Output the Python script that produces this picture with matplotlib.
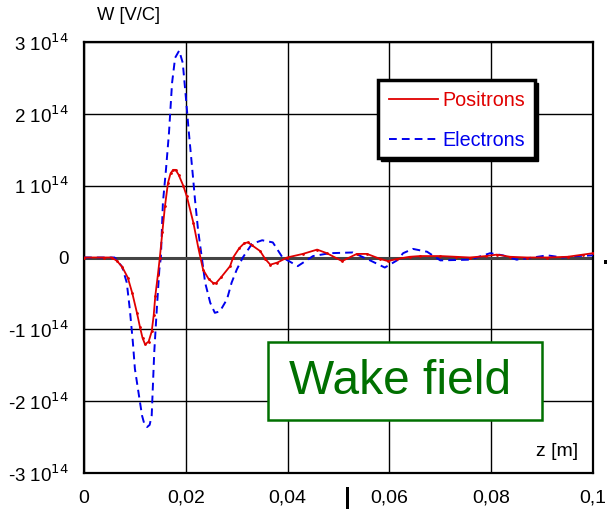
import matplotlib
matplotlib.use("Agg")
import matplotlib.pyplot as plt
from matplotlib.patches import Rectangle
from matplotlib.lines import Line2D

plt.rcParams['font.family'] = ['Liberation Sans', 'DejaVu Sans']

# ---- data (W in units of 1e14 V/C, z in m) ----
z_pos = [0.0, 0.0040, 0.0055, 0.0065, 0.0075, 0.0086, 0.0095, 0.0104, 0.0110, 0.0115,
         0.0120, 0.0127, 0.0133, 0.0137, 0.0140, 0.0145, 0.0149, 0.0154, 0.0159, 0.0165,
         0.0170, 0.0175, 0.0180, 0.0186, 0.0195, 0.0202, 0.0215, 0.0225, 0.0234, 0.0245,
         0.0253, 0.0259, 0.0270, 0.0287, 0.0293, 0.0305, 0.0315, 0.0322, 0.0330, 0.0346,
         0.0356, 0.0366, 0.0380, 0.0399, 0.0430, 0.0458, 0.0477, 0.0507, 0.0536, 0.0556,
         0.0582, 0.0597, 0.0615, 0.0640, 0.0660, 0.0700, 0.0730, 0.0758, 0.0790, 0.0811,
         0.0837, 0.0870, 0.0910, 0.0950, 0.0980, 0.1000]
w_pos = [0.0, 0.0, 0.0, -0.05, -0.13, -0.28, -0.50, -0.77, -0.97, -1.12,
         -1.21, -1.17, -1.03, -0.80, -0.54, -0.25, 0.0, 0.36, 0.71, 1.04,
         1.17, 1.22, 1.22, 1.15, 1.00, 0.85, 0.48, 0.12, -0.17, -0.30,
         -0.35, -0.36, -0.27, -0.12, 0.0, 0.13, 0.20, 0.21, 0.17, 0.09,
         -0.02, -0.10, -0.07, 0.0, 0.05, 0.11, 0.06, -0.05, 0.05, 0.05,
         -0.02, -0.05, -0.02, 0.01, 0.02, 0.02, 0.01, 0.0, 0.02, 0.04,
         0.01, 0.0, 0.0, 0.01, 0.04, 0.06]

z_ele = [0.0, 0.0045, 0.0060, 0.0075, 0.0084, 0.0090, 0.0096, 0.0100, 0.0106, 0.0114,
         0.0119, 0.0124, 0.0129, 0.0133, 0.0138, 0.0143, 0.0148, 0.0151, 0.0155, 0.0161,
         0.0167, 0.0173, 0.0179, 0.0187, 0.0194, 0.0200, 0.0206, 0.0214, 0.0218, 0.0224,
         0.0232, 0.0238, 0.0248, 0.0257, 0.0267, 0.0281, 0.0290, 0.0300, 0.0312, 0.0330,
         0.0350, 0.0371, 0.0390, 0.0420, 0.0450, 0.0483, 0.0528, 0.0562, 0.0591, 0.0615,
         0.0627, 0.0646, 0.0674, 0.0700, 0.0758, 0.0798, 0.0823, 0.0850, 0.0882, 0.0910,
         0.0940, 0.0969, 0.1000]
w_ele = [0.0, 0.0, 0.0, -0.13, -0.35, -0.72, -1.18, -1.55, -1.83, -2.20,
         -2.33, -2.36, -2.33, -2.20, -1.32, -0.72, -0.17, 0.0, 0.76, 1.22,
         1.74, 2.43, 2.78, 2.88, 2.71, 2.24, 1.74, 1.13, 0.81, 0.39,
         -0.03, -0.35, -0.63, -0.77, -0.75, -0.58, -0.35, -0.17, 0.0, 0.19,
         0.24, 0.21, 0.0, -0.12, 0.02, 0.06, 0.07, -0.04, -0.14, -0.04,
         0.06, 0.12, 0.08, -0.04, -0.03, 0.06, 0.03, -0.03, 0.0, 0.03,
         0.0, 0.02, 0.03]

x_ticks = [0, 0.02, 0.04, 0.06, 0.08, 0.1]
x_labels = ["0", "0,02", "0,04", "0,06", "0,08", "0,1"]
y_ticks = [-3, -2, -1, 0, 1, 2, 3]
y_labels = [r"-3 10$^{14}$", r"-2 10$^{14}$", r"-1 10$^{14}$", "0",
            r"1 10$^{14}$", r"2 10$^{14}$", r"3 10$^{14}$"]
series_names = ["Positrons", "Electrons"]

W, H = 607, 509
fig = plt.figure(figsize=(W / 100, H / 100), dpi=100)

def fx(px):
    return px / W

def fy(py):
    return 1 - py / H

ax = fig.add_axes([fx(84), fy(473), (593 - 84) / W, (473 - 42) / H])
ax.set_xlim(0, 0.1)
ax.set_ylim(-3, 3)

ax.set_xticks(x_ticks)
ax.set_xticklabels(x_labels)
ax.set_yticks(y_ticks)
ax.set_yticklabels(y_labels)
ax.tick_params(axis='both', length=0, colors='black')
ax.tick_params(axis='x', pad=12, labelsize=14)
ax.tick_params(axis='y', pad=11, labelsize=13.5)
ax.grid(True, color='black', linewidth=1.0)
ax.set_axisbelow(True)
for s in ax.spines.values():
    s.set_linewidth(1.6)
    s.set_color('black')

ax.axhline(0, color='#444444', linewidth=2.2, zorder=1.5)

ax.plot(z_ele, w_ele, color='#0000ee', linewidth=1.4, linestyle=(0, (4, 2.6)), zorder=3)
ax.plot(z_pos, w_pos, color='#e00000', linewidth=1.3, zorder=4,
        marker='.', markersize=2)

# axis labels
fig.text(fx(97), fy(16), "W [V/C]", fontsize=13.2, va='center', ha='left')
fig.text(fx(578), fy(452), "z [m]", fontsize=14, va='center', ha='right')

# legend box with black shadow
fig.patches.append(Rectangle((fx(381), fy(161)), fx(538) - fx(381), fy(83) - fy(161),
                             transform=fig.transFigure, facecolor='black',
                             edgecolor='black', zorder=5))
fig.patches.append(Rectangle((fx(378), fy(158)), fx(535) - fx(378), fy(80) - fy(158),
                             transform=fig.transFigure, facecolor='white',
                             edgecolor='black', linewidth=2.5, zorder=6))
fig.lines.append(Line2D([fx(389), fx(438)], [fy(99), fy(99)], transform=fig.transFigure,
                        color='#e00000', linewidth=1.3, zorder=7))
fig.lines.append(Line2D([fx(389), fx(438)], [fy(139), fy(139)], transform=fig.transFigure,
                        color='#0000ee', linewidth=1.4, linestyle=(0, (4, 2.6)), zorder=7))
fig.text(fx(442), fy(100), series_names[0], color='#e00000', fontsize=14.2,
         va='center', ha='left', zorder=8)
fig.text(fx(442), fy(140), series_names[1], color='#0000ee', fontsize=14.2,
         va='center', ha='left', zorder=8)

# Wake field box
fig.patches.append(Rectangle((fx(268), fy(420)), fx(542) - fx(268), fy(342) - fy(420),
                             transform=fig.transFigure, facecolor='white',
                             edgecolor='#007000', linewidth=1.8, zorder=6))
fig.text(fx(400), fy(382), "Wake field", color='#007000', fontsize=34.5,
         va='center', ha='center', zorder=8)

# stray marks
fig.patches.append(Rectangle((fx(346), fy(509)), fx(3), fy(487) - fy(509),
                             transform=fig.transFigure, facecolor='black',
                             edgecolor='none', zorder=8))
fig.patches.append(Rectangle((fx(604), fy(264)), fx(3), fy(260) - fy(264),
                             transform=fig.transFigure, facecolor='black',
                             edgecolor='none', zorder=8))

fig.savefig("out.png", dpi=100)
